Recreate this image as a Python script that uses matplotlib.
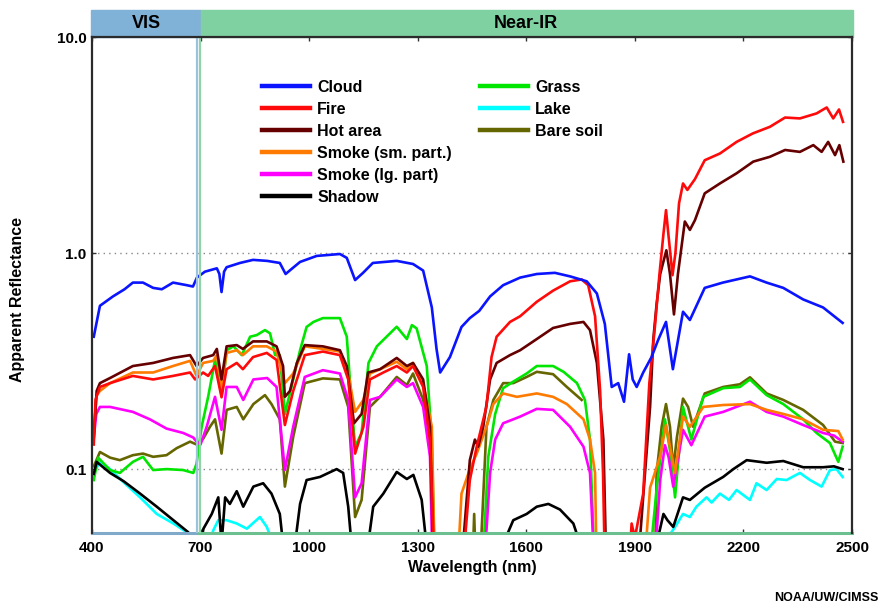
import numpy as np
import matplotlib
matplotlib.use("Agg")
import matplotlib.pyplot as plt
import matplotlib.transforms as mtransforms
from matplotlib.patches import Rectangle

plt.rcParams['font.family'] = ['Liberation Sans', 'DejaVu Sans']
plt.rcParams['font.weight'] = 'bold'

nan = np.nan

# spectra (wavelength nm, apparent reflectance)
cloud_wl = [405, 422, 458, 490, 513, 541, 569, 593, 624, 662, 679, 690, 712, 745, 752, 758, 765, 772,
            809, 845, 884, 919, 935, 950, 975, 1021, 1085, 1104, 1127, 1149, 1176, 1242, 1287, 1315,
            1339, 1352, 1362, 1389, 1421, 1444, 1470, 1500, 1536, 1583, 1629, 1679, 1721, 1767, 1795,
            1817, 1836, 1854, 1870, 1884, 1894, 1905, 1923, 1946, 1964, 1986, 2005, 2033, 2052, 2093,
            2143, 2218, 2264, 2310, 2365, 2420, 2474]
cloud_r = [0.41, 0.57, 0.63, 0.68, 0.73, 0.73, 0.69, 0.68, 0.73, 0.71, 0.70, 0.77, 0.82, 0.85, 0.80, 0.66, 0.82, 0.86,
           0.90, 0.93, 0.92, 0.90, 0.80, 0.84, 0.91, 0.97, 0.99, 0.95, 0.75, 0.81, 0.90, 0.92, 0.89, 0.83,
           0.56, 0.36, 0.28, 0.33, 0.455, 0.50, 0.54, 0.63, 0.71, 0.77, 0.80, 0.81, 0.78, 0.74, 0.65,
           0.47, 0.24, 0.25, 0.205, 0.34, 0.26, 0.24, 0.28, 0.33, 0.395, 0.48, 0.29, 0.535, 0.49, 0.69,
           0.73, 0.78, 0.73, 0.69, 0.61, 0.56, 0.475]

fire_wl = [405, 410, 422, 450, 513, 569, 624, 671, 685, 707, 721, 740, 758, 772, 800, 817, 845, 883, 910,
           933, 956, 988, 1038, 1085, 1108, 1127, 1150, 1168, 1205, 1242, 1270, 1287, 1315, 1334, 1348,
           1380, 1421, 1444, 1463, 1490, 1504, 1518, 1555, 1583, 1629, 1674, 1721, 1753, 1771, 1790, 1804,
           1812, 1818, 1850, 1881, 1891, 1900, 1923, 1940, 1955, 1968, 1979, 1986, 1993, 2004, 2012, 2022,
           2033, 2045, 2066, 2093, 2135, 2181, 2226, 2273, 2315, 2356, 2402, 2430, 2448, 2464, 2475]
fire_r = [0.13, 0.21, 0.24, 0.25, 0.27, 0.26, 0.27, 0.28, 0.26, 0.28, 0.27, 0.30, 0.215, 0.29, 0.31, 0.29, 0.33, 0.345, 0.32,
          0.16, 0.23, 0.337, 0.35, 0.337, 0.26, 0.118, 0.157, 0.26, 0.28, 0.30, 0.28, 0.30, 0.24, 0.136, 0.03,
          nan, 0.03, 0.089, 0.127, 0.195, 0.33, 0.41, 0.48, 0.51, 0.595, 0.67, 0.74, 0.755, 0.71, 0.51, 0.23,
          0.096, 0.03, nan, 0.03, 0.056, 0.048, 0.077, 0.25, 0.45, 0.80, 1.23, 1.58, 1.2, 0.79, 1.0, 1.7,
          2.1, 1.96, 2.2, 2.69, 2.89, 3.27, 3.58, 3.84, 4.24, 4.2, 4.43, 4.72, 4.2, 4.62, 4.05]

hot_wl = [405, 413, 422, 450, 513, 569, 624, 671, 689, 707, 735, 745, 758, 772, 800, 817, 845, 883, 910,
          928, 933, 947, 966, 988, 1038, 1085, 1104, 1124, 1145, 1163, 1196, 1242, 1270, 1287, 1315, 1334,
          1345, 1380, 1417, 1444, 1458, 1467, 1481, 1500, 1518, 1555, 1583, 1629, 1674, 1721, 1758, 1776,
          1795, 1813, 1822, 1860, 1905, 1942, 1951, 1960, 1970, 1987, 1997, 2008, 2019, 2038, 2052, 2066,
          2093, 2135, 2181, 2227, 2273, 2315, 2356, 2393, 2416, 2434, 2453, 2465, 2476]
hot_r = [0.14, 0.23, 0.25, 0.264, 0.30, 0.31, 0.327, 0.337, 0.30, 0.327, 0.337, 0.36, 0.26, 0.37, 0.375, 0.36, 0.39, 0.39, 0.37,
         0.30, 0.216, 0.23, 0.31, 0.375, 0.37, 0.355, 0.30, 0.163, 0.18, 0.28, 0.29, 0.327, 0.30, 0.31, 0.26, 0.157,
         0.03, nan, 0.03, 0.11, 0.137, 0.127, 0.157, 0.26, 0.31, 0.337, 0.355, 0.40, 0.45, 0.47, 0.48, 0.44,
         0.31, 0.137, 0.03, nan, 0.03, 0.194, 0.40, 0.58, 0.80, 1.03, 0.80, 0.52, 0.80, 1.40, 1.28, 1.42,
         1.89, 2.1, 2.34, 2.65, 2.79, 3.0, 2.94, 3.16, 2.94, 3.27, 2.84, 3.16, 2.65]

smoke_sm_wl = [405, 413, 422, 450, 513, 569, 624, 671, 689, 707, 735, 745, 758, 772, 800, 817, 845, 883, 910,
               933, 956, 988, 1038, 1085, 1108, 1127, 1150, 1168, 1196, 1242, 1270, 1287, 1315, 1339, 1348,
               1380, 1408, 1421, 1444, 1463, 1490, 1509, 1536, 1574, 1629, 1674, 1712, 1758, 1776, 1790, 1795,
               1860, 1923, 1942, 1970, 1986, 1997, 2011, 2033, 2052, 2089, 2144, 2218, 2264, 2310, 2365, 2420,
               2462, 2474]
smoke_sm_r = [0.15, 0.22, 0.23, 0.25, 0.28, 0.28, 0.30, 0.317, 0.27, 0.31, 0.317, 0.337, 0.24, 0.345, 0.355, 0.337, 0.37, 0.37, 0.35,
              0.25, 0.277, 0.37, 0.36, 0.35, 0.277, 0.184, 0.209, 0.277, 0.29, 0.314, 0.29, 0.31, 0.25, 0.157, 0.03,
              nan, 0.03, 0.077, 0.10, 0.118, 0.157, 0.20, 0.224, 0.216, 0.224, 0.216, 0.20, 0.17, 0.137, 0.096, 0.03,
              nan, 0.03, 0.082, 0.115, 0.16, 0.127, 0.096, 0.175, 0.157, 0.194, 0.198, 0.20, 0.188, 0.18, 0.17, 0.152,
              0.15, 0.137]

smoke_lg_wl = [405, 412, 422, 450, 513, 560, 606, 652, 680, 689, 700, 717, 740, 758, 772, 800, 818, 846, 884,
               910, 933, 956, 988, 1038, 1085, 1108, 1127, 1145, 1168, 1196, 1242, 1270, 1287, 1315, 1334,
               1342, 1400, 1481, 1500, 1514, 1536, 1564, 1583, 1629, 1674, 1721, 1758, 1776, 1790, 1870,
               1951, 1970, 1983, 1993, 2006, 2033, 2056, 2093, 2144, 2218, 2264, 2310, 2365, 2420, 2450, 2474]
smoke_lg_r = [0.14, 0.18, 0.194, 0.194, 0.184, 0.17, 0.154, 0.147, 0.14, 0.134, 0.13, 0.157, 0.216, 0.152, 0.24, 0.24, 0.209, 0.26, 0.264,
              0.24, 0.099, 0.157, 0.267, 0.287, 0.277, 0.209, 0.074, 0.086, 0.209, 0.216, 0.26, 0.24, 0.25, 0.194, 0.114,
              0.03, nan, 0.03, 0.096, 0.137, 0.163, 0.17, 0.175, 0.19, 0.188, 0.157, 0.127, 0.096, 0.03, nan,
              0.03, 0.089, 0.129, 0.114, 0.083, 0.152, 0.129, 0.175, 0.184, 0.205, 0.184, 0.175, 0.16, 0.147, 0.143, 0.134]

shadow_wl = [405, 413, 450, 487, 533, 579, 625, 666, 680, 690, 700, 708, 731, 749, 758, 768, 781, 800, 818, 846,
             873, 896, 919, 928, 945, 961, 975, 993, 1030, 1076, 1094, 1108, 1117, 1140, 1163, 1177, 1205,
             1242, 1270, 1288, 1311, 1324, 1430, 1536, 1564, 1601, 1629, 1661, 1693, 1730, 1749, 1850, 1960,
             1979, 1990, 2006, 2033, 2052, 2093, 2144, 2172, 2209, 2264, 2310, 2365, 2420, 2450, 2474]
shadow_r = [0.095, 0.108, 0.096, 0.088, 0.077, 0.067, 0.058, 0.051, 0.045, nan, 0.045, 0.053, 0.062, 0.074, 0.045, 0.074, 0.069, 0.079, 0.067, 0.083,
            0.086, 0.077, 0.062, 0.045, nan, 0.045, 0.069, 0.089, 0.092, 0.10, 0.096, 0.067, 0.045, nan, 0.045, 0.067, 0.077,
            0.097, 0.09, 0.094, 0.072, 0.045, nan, 0.045, 0.058, 0.062, 0.067, 0.069, 0.065, 0.056, 0.045, nan, 0.045,
            0.062, 0.058, 0.054, 0.074, 0.072, 0.082, 0.092, 0.10, 0.11, 0.107, 0.109, 0.102, 0.102, 0.103, 0.10]

grass_wl = [405, 417, 450, 477, 513, 541, 569, 606, 652, 680, 689, 703, 721, 740, 758, 772, 791, 814, 837, 855,
            878, 892, 906, 919, 933, 956, 975, 993, 1012, 1038, 1085, 1104, 1118, 1127, 1145, 1164, 1187, 1242,
            1270, 1284, 1297, 1325, 1339, 1348, 1400, 1477, 1495, 1514, 1536, 1564, 1601, 1629, 1674, 1703,
            1740, 1762, 1776, 1790, 1860, 1935, 1960, 1983, 1997, 2011, 2033, 2056, 2089, 2144, 2190, 2218,
            2264, 2310, 2365, 2402, 2439, 2462, 2474]
grass_r = [0.089, 0.113, 0.099, 0.096, 0.108, 0.114, 0.099, 0.10, 0.099, 0.096, 0.106, 0.157, 0.216, 0.32, 0.22, 0.355, 0.37, 0.337, 0.41, 0.417,
           0.44, 0.425, 0.337, 0.337, 0.18, 0.26, 0.355, 0.455, 0.48, 0.50, 0.50, 0.41, 0.194, 0.127, 0.147, 0.31, 0.37, 0.456,
           0.40, 0.464, 0.448, 0.30, 0.137, 0.03, nan, 0.03, 0.114, 0.18, 0.237, 0.254, 0.277, 0.30, 0.30, 0.282,
           0.25, 0.209, 0.137, 0.03, nan, 0.03, 0.08, 0.17, 0.122, 0.074, 0.194, 0.137, 0.216, 0.237, 0.24, 0.26,
           0.22, 0.20, 0.17, 0.147, 0.132, 0.108, 0.127]

lake_wl = [405, 422, 450, 487, 533, 579, 625, 662, 680, 700, 725, 735, 749, 772, 800, 828, 864, 883, 901, 1400,
           1979, 2011, 2033, 2052, 2070, 2098, 2112, 2135, 2160, 2181, 2218, 2236, 2264, 2292, 2319, 2356,
           2384, 2416, 2439, 2457, 2474]
lake_r = [0.096, 0.108, 0.10, 0.087, 0.074, 0.062, 0.056, 0.051, 0.045, nan, 0.045, 0.052, 0.058, 0.058, 0.056, 0.053, 0.06, 0.054, 0.045, nan,
          0.045, 0.054, 0.062, 0.06, 0.067, 0.074, 0.07, 0.077, 0.072, 0.08, 0.072, 0.086, 0.08, 0.09, 0.089, 0.096,
          0.089, 0.083, 0.099, 0.10, 0.092]

soil_wl = [405, 422, 450, 477, 513, 541, 569, 606, 634, 671, 689, 707, 726, 740, 758, 772, 800, 818, 846, 878,
           896, 919, 933, 956, 988, 1038, 1085, 1108, 1127, 1145, 1168, 1196, 1242, 1270, 1287, 1315, 1334,
           1345, 1400, 1450, 1456, 1462, 1466, 1470, 1490, 1509, 1536, 1564, 1601, 1629, 1674, 1712, 1753,
           1850, 1955, 1960, 1974, 1986, 1997, 2006, 2016, 2033, 2047, 2061, 2093, 2144, 2190, 2218, 2264,
           2310, 2365, 2420, 2453, 2474]
soil_r = [0.103, 0.12, 0.113, 0.11, 0.116, 0.118, 0.114, 0.116, 0.125, 0.134, 0.13, 0.138, 0.157, 0.17, 0.118, 0.188, 0.194, 0.17, 0.20, 0.22,
          0.20, 0.17, 0.083, 0.141, 0.25, 0.263, 0.26, 0.194, 0.06, 0.072, 0.194, 0.216, 0.267, 0.245, 0.277, 0.209, 0.137,
          0.03, nan, 0.03, 0.062, 0.03, nan, 0.03, 0.157, 0.209, 0.25, 0.25, 0.267, 0.282, 0.275, 0.24, 0.209,
          nan, 0.03, 0.096, 0.157, 0.20, 0.157, 0.10, 0.14, 0.212, 0.194, 0.157, 0.224, 0.24, 0.247, 0.266, 0.224,
          0.209, 0.188, 0.16, 0.134, 0.132]

series_left = [
    ("Cloud", cloud_wl, cloud_r, "#0a14ff"),
    ("Fire", fire_wl, fire_r, "#ff0a0a"),
    ("Hot area", hot_wl, hot_r, "#660000"),
    ("Smoke (sm. part.)", smoke_sm_wl, smoke_sm_r, "#ff7a00"),
    ("Smoke (lg. part)", smoke_lg_wl, smoke_lg_r, "#ff00ff"),
    ("Shadow", shadow_wl, shadow_r, "#000000"),
]
series_right = [
    ("Grass", grass_wl, grass_r, "#00e600"),
    ("Lake", lake_wl, lake_r, "#00ffff"),
    ("Bare soil", soil_wl, soil_r, "#666600"),
]

fig = plt.figure(figsize=(8.92, 6.10), dpi=100)
ax = fig.add_axes([0.1031, 0.1262, 0.8521, 0.8131])

# draw order: lower curves first so the upper ones sit on top
draw_order = series_right[::-1] + series_left[::-1]
handles = {}
for name, wl, r, col in draw_order:
    ln, = ax.plot(wl, r, color=col, lw=1.9, label=name, solid_joinstyle='round')
    handles[name] = ln

ax.set_yscale('log')
ax.set_xlim(400, 2500)
ax.set_ylim(0.0506, 10.0)

ax.set_xticks([400, 700, 1000, 1300, 1600, 1900, 2200, 2500])
ax.set_yticks([0.1, 1.0, 10.0])
ax.set_yticklabels(["0.1", "1.0", "10.0"])
ax.yaxis.set_minor_locator(matplotlib.ticker.NullLocator())
ax.tick_params(axis='both', labelsize=11, direction='in', length=3, width=1, color='#333333')
ax.tick_params(axis='x', top=True, pad=6)
ax.tick_params(axis='y', right=True, pad=4)

for y in (0.1, 1.0):
    ax.axhline(y, color='#888888', lw=1, ls=(0, (1, 3)), zorder=0)

# spines
for s in ('left', 'top', 'right'):
    ax.spines[s].set_color('#2b2b2b')
    ax.spines[s].set_linewidth(1.6)
ax.spines['bottom'].set_visible(False)
trans = mtransforms.blended_transform_factory(ax.transData, ax.transAxes)
ax.plot([400, 695], [0, 0], transform=trans, color='#7fa9c9', lw=2.2, clip_on=False)
ax.plot([695, 2500], [0, 0], transform=trans, color='#6cbf8e', lw=2.2, clip_on=False)
ax.plot([690, 690], [0, 1], transform=trans, color='#9cc3dc', lw=1.6)
ax.plot([699, 699], [0, 1], transform=trans, color='#8fd3a8', lw=1.6)

# VIS / Near-IR header band
band_h = 0.055
ax.add_patch(Rectangle((398, 1.0), 302, band_h, transform=trans, color='#80b1d6',
                       clip_on=False, zorder=0))
ax.add_patch(Rectangle((700, 1.0), 1803, band_h, transform=trans, color='#80d1a2',
                       clip_on=False, zorder=0))
ax.text(550, 1.0 + band_h / 2, "VIS", transform=trans, ha='center', va='center',
        fontsize=13, fontweight='bold')
ax.text(1600, 1.0 + band_h / 2, "Near-IR", transform=trans, ha='center', va='center',
        fontsize=13, fontweight='bold')

ax.set_xlabel("Wavelength (nm)", fontsize=11.5, fontweight='bold', labelpad=3)
ax.set_ylabel("Apparent Reflectance", fontsize=11.5, fontweight='bold', labelpad=8)
ax.yaxis.set_label_coords(-0.088, 0.47)

leg_kw = dict(loc='upper left', frameon=False, fontsize=11.5, handlelength=3.0,
              handletextpad=0.45, labelspacing=0.44, borderpad=0, borderaxespad=0)
leg1 = ax.legend([handles[s[0]] for s in series_left], [s[0] for s in series_left],
                 bbox_to_anchor=(0.2237, 0.914), **leg_kw)
ax.add_artist(leg1)
leg2 = ax.legend([handles[s[0]] for s in series_right], [s[0] for s in series_right],
                 bbox_to_anchor=(0.5105, 0.914), **leg_kw)
for lg in (leg1, leg2):
    for h in lg.get_lines():
        h.set_linewidth(3.2)

fig.text(0.985, 0.01, "NOAA/UW/CIMSS", ha='right', va='bottom', fontsize=9, fontweight='bold')

fig.savefig("out.png", dpi=100)
